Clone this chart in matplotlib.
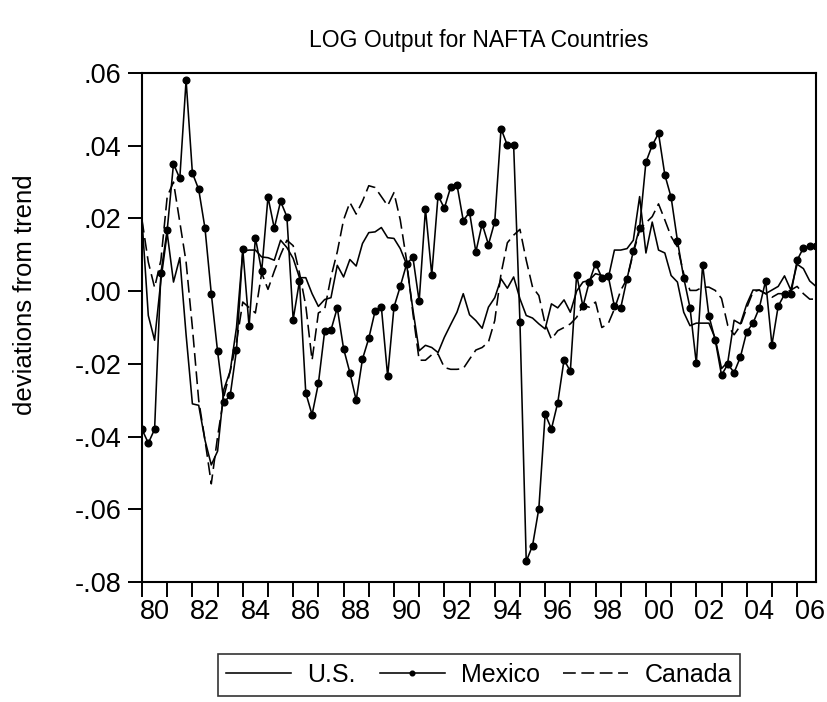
import numpy as np
import matplotlib
matplotlib.use("Agg")
import matplotlib.pyplot as plt

plt.rcParams['font.family'] = ['Liberation Sans', 'DejaVu Sans']

# quarterly deviations from trend, 1980Q1 - 2006Q4
us = [0.0196, -0.0067, -0.0135, 0.0030, 0.0160, 0.0025, 0.0092, -0.0120,
      -0.0310, -0.0314, -0.0410, -0.0478, -0.0440, -0.0270, -0.0220, -0.0100,
      0.0110, 0.0113, 0.0113, 0.0094, 0.0092, 0.0085, 0.0140, 0.0120,
      0.0090, 0.0037, 0.0037, -0.0007, -0.0042, -0.0023, -0.0018, 0.0071,
      0.0039, 0.0087, 0.0069, 0.0131, 0.0161, 0.0163, 0.0175, 0.0147,
      0.0145, 0.0117, 0.0074, -0.0050, -0.0164, -0.0149, -0.0155, -0.0169,
      -0.0127, -0.0092, -0.0058, -0.0007, -0.0065, -0.0081, -0.0102, -0.0044,
      -0.0018, 0.0034, 0.0008, 0.0039, -0.0021, -0.0067, -0.0074, -0.0090,
      -0.0104, -0.0035, -0.0046, -0.0024, -0.0058, 0.0000, 0.0025, 0.0030,
      0.0048, 0.0043, 0.0034, 0.0113, 0.0113, 0.0117, 0.0140, 0.0260,
      0.0105, 0.0190, 0.0113, 0.0105, 0.0043, 0.0025, -0.0058, -0.0095,
      -0.0088, -0.0088, -0.0088, -0.0130, -0.0213, -0.0195, -0.0080, -0.0090,
      -0.0036, 0.0003, 0.0003, -0.0007, 0.0003, 0.0013, 0.0042, 0.0003,
      0.0074, 0.0062, 0.0028, 0.0013]

mexico = [-0.0380, -0.0418, -0.0380, 0.0050, 0.0168, 0.0350, 0.0310, 0.0580,
          0.0325, 0.0280, 0.0173, -0.0007, -0.0166, -0.0306, -0.0287, -0.0162,
          0.0115, -0.0097, 0.0147, 0.0055, 0.0259, 0.0173, 0.0247, 0.0205,
          -0.0078, 0.0028, -0.0280, -0.0340, -0.0254, -0.0110, -0.0107, -0.0046,
          -0.0158, -0.0224, -0.0300, -0.0187, -0.0130, -0.0055, -0.0044, -0.0234,
          -0.0044, 0.0013, 0.0074, 0.0094, -0.0028, 0.0226, 0.0045, 0.0263,
          0.0228, 0.0286, 0.0293, 0.0194, 0.0217, 0.0108, 0.0185, 0.0128,
          0.0191, 0.0447, 0.0401, 0.0401, -0.0084, -0.0743, -0.0700, -0.0598,
          -0.0338, -0.0379, -0.0307, -0.0189, -0.0220, 0.0045, -0.0042, 0.0025,
          0.0076, 0.0037, 0.0043, -0.0042, -0.0046, 0.0034, 0.0110, 0.0175,
          0.0355, 0.0401, 0.0434, 0.0320, 0.0258, 0.0139, 0.0037, -0.0046,
          -0.0199, 0.0073, -0.0068, -0.0134, -0.0231, -0.0201, -0.0224, -0.0181,
          -0.0112, -0.0088, -0.0046, 0.0028, -0.0148, -0.0041, -0.0009, -0.0009,
          0.0085, 0.0119, 0.0123, 0.0123]

canada = [0.0196, 0.0080, 0.0010, 0.0085, 0.0260, 0.0300, 0.0190, 0.0080,
          -0.0100, -0.0300, -0.0410, -0.0530, -0.0400, -0.0290, -0.0220, -0.0140,
          -0.0030, -0.0045, -0.0060, 0.0050, 0.0005, 0.0055, 0.0100, 0.0140,
          0.0125, 0.0050, -0.0040, -0.0190, -0.0060, -0.0050, 0.0039, 0.0108,
          0.0196, 0.0244, 0.0212, 0.0247, 0.0290, 0.0285, 0.0260, 0.0235,
          0.0271, 0.0196, 0.0085, -0.0060, -0.0190, -0.0190, -0.0175, -0.0173,
          -0.0210, -0.0215, -0.0215, -0.0213, -0.0187, -0.0162, -0.0155, -0.0140,
          -0.0081, 0.0048, 0.0133, 0.0154, 0.0170, 0.0085, 0.0011, -0.0012,
          -0.0090, -0.0132, -0.0109, -0.0100, -0.0090, -0.0072, -0.0040, -0.0044,
          -0.0030, -0.0100, -0.0090, -0.0049, 0.0002, 0.0034, 0.0105, 0.0168,
          0.0188, 0.0205, 0.0240, 0.0196, 0.0150, 0.0122, 0.0048, 0.0002,
          0.0002, 0.0011, 0.0011, 0.0002, -0.0020, -0.0095, -0.0120, -0.0095,
          -0.0046, -0.0002, 0.0003, -0.0007, -0.0017, -0.0007, -0.0007, 0.0003,
          0.0013, -0.0007, -0.0022, -0.0022]

start_year = 1980
end_year = 2006
yticks = [0.06, 0.04, 0.02, 0.00, -0.02, -0.04, -0.06, -0.08]

t = start_year + np.arange(len(us)) / 4.0

W, H = 827, 702
fig = plt.figure(figsize=(W / 100, H / 100), dpi=100)
ax = fig.add_axes([142 / W, (H - 582) / H, (816 - 142) / W, (582 - 73) / H])

lw = 1.15
ax.plot(t, us, color='black', lw=lw, label='U.S.')
ax.plot(t, mexico, color='black', lw=lw, marker='o', ms=4.8, label='Mexico')
ax.plot(t, canada, color='black', lw=lw, dashes=(8, 3.5), label='Canada')

ax.set_xlim(t[0], t[-1])
ax.set_ylim(-0.08, 0.06)

# year ticks on the boundaries, two-digit labels centred on even years
years = np.arange(start_year, end_year + 1)
ax.set_xticks(years)
ax.set_xticklabels([])
mids = np.arange(start_year, end_year + 1, 2) + 0.5
ax.set_xticks(mids, minor=True)
ax.set_xticklabels(['%02d' % (y % 100) for y in mids.astype(int)], minor=True)
ax.tick_params(axis='x', which='major', direction='out', length=11, width=1.4)
ax.tick_params(axis='x', which='minor', length=0, pad=12, labelsize=19.5)

ax.set_yticks(yticks)
ax.set_yticklabels([('-' if v < 0 else '') + ('%.2f' % abs(v))[1:] for v in yticks])
ax.tick_params(axis='y', direction='out', length=10, width=1.4, labelsize=19.5, pad=5)

for s in ax.spines.values():
    s.set_linewidth(1.5)

fig.text(25 / W, 1 - 295 / H, 'deviations from trend', rotation=90,
         ha='center', va='center', fontsize=18.5)
fig.text(479 / W, 1 - 40 / H, 'LOG Output for NAFTA Countries',
         ha='center', va='center', fontsize=16.5)

leg = fig.legend(loc='upper center', bbox_to_anchor=(479 / W, 1 - 654 / H),
                 borderaxespad=0, ncol=3, fontsize=18, frameon=True,
                 fancybox=False, edgecolor='black', handlelength=2.6,
                 handletextpad=0.64, columnspacing=0.95, borderpad=0.35,
                 markerscale=0.7)
leg.get_frame().set_linewidth(1.2)

fig.savefig('out.png', dpi=100)
